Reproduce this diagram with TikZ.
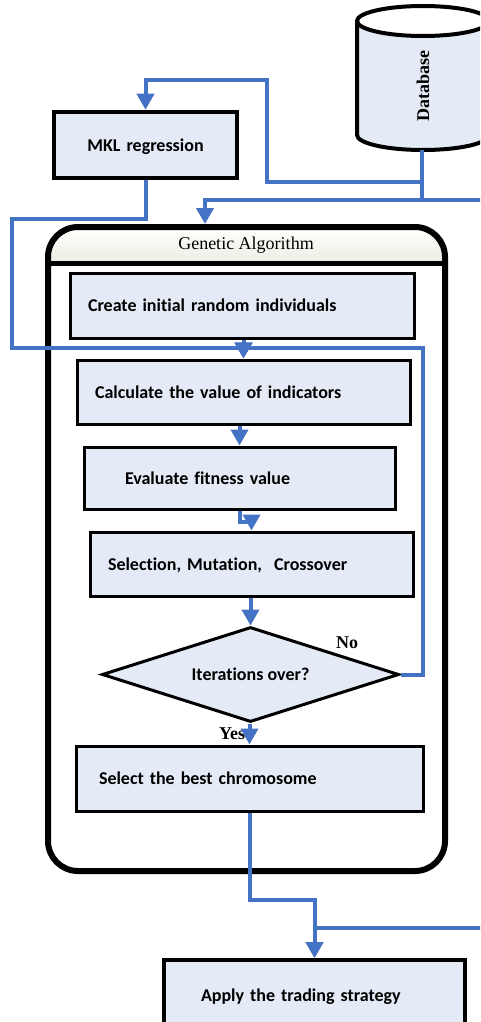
\documentclass[tikz,border=0pt]{standalone}
\usepackage{fontspec}
\setmainfont{Carlito}[Ligatures=NoCommon]
\newfontfamily\timesfam{Liberation Serif}
\usetikzlibrary{shapes.geometric,arrows.meta}
\definecolor{flowblue}{HTML}{4472C4}
\definecolor{boxfill}{HTML}{E5EBF6}
\definecolor{headbot}{HTML}{EDEDE3}
\newcommand\boxfont{\bfseries\fontsize{18}{21}\selectfont}
\newcommand\serifbold{\timesfam\bfseries\fontsize{18}{21}\selectfont}

\begin{document}
\begin{tikzpicture}[x=1pt,y=-1pt,
  procbox/.style={draw=black, fill=boxfill, line width=3pt, font=\boxfont,
    align=left, inner ysep=0pt, minimum height=64pt, text depth=0pt},
  link/.style={draw=flowblue, line width=4pt, line join=miter},
  arr/.style={link, -{Triangle[width=17pt,length=16pt]}},
  tag/.style={font=\serifbold, inner sep=0pt}]
\useasboundingbox (0,0) rectangle (480,1022);
\clip (0,0) rectangle (480,1022);

% Genetic Algorithm container: shaded header, then frame
\fill[top color=white, bottom color=headbot]
  (48,263) [rounded corners=30pt] -- (48,227) -- (445,227) [sharp corners] -- (445,263) -- cycle;
\node[draw=black, line width=6pt, rounded corners=30pt, minimum width=397pt,
  minimum height=644pt, inner sep=0pt] (ga) at (246.5,549) {};
\draw[line width=5pt] (48,263) -- (445,263);
\node[font=\timesfam\fontsize{18}{21}\selectfont, inner sep=0pt] (gatitle) at (246,245) {Genetic Algorithm};

% Process steps
\node[procbox, line width=4.5pt, text width=163pt, inner xsep=10pt, align=center,
  minimum height=66pt] (mkl) at (145.5,145) {MKL regression};
\node[procbox, text width=308pt, inner xsep=18pt, minimum height=65pt] (create) at (242,305.5)
  {Create initial random individuals};
\node[procbox, text width=297pt, inner xsep=18pt] (calc) at (243.5,392)
  {Calculate the value of indicators};
\node[procbox, text width=229pt, inner xsep=41pt, minimum height=62pt] (eval) at (239.5,478)
  {Evaluate fitness value};
\node[procbox, text width=287pt, inner xsep=18pt] (sel) at (251.5,564)
  {Selection, Mutation,\ \ Crossover};
\node[diamond, draw=black, fill=boxfill, line width=3pt, minimum width=297pt,
  minimum height=95pt, shape aspect=3.1, inner sep=0pt, font=\boxfont] (dia) at (250.5,674.5)
  {Iterations over?};
\node[procbox, text width=301pt, inner xsep=23pt, minimum height=65pt] (best) at (249.5,778.5)
  {Select the best chromosome};
\node[procbox, line width=4pt, text width=227pt, inner xsep=37pt, minimum height=70pt] (apply) at (314.5,995)
  {Apply the trading strategy};

% Database cylinder
\fill[boxfill] (357,21) -- (357,135) arc[start angle=180, end angle=0, x radius=66, y radius=15]
  -- (489,21) arc[start angle=0, end angle=180, x radius=66, y radius=15] -- cycle;
\draw[line width=4pt] (357,21) -- (357,135) arc[start angle=180, end angle=0, x radius=66, y radius=15]
  -- (489,21);
\draw[line width=4pt] (423,21) ellipse[x radius=66, y radius=15];
\node[font=\serifbold, rotate=90, inner sep=0pt] (db) at (423,86) {Database};
\coordinate (dbbase) at (422,150);
\coordinate (gax) at (205,200);

% Decision labels
\node[tag] (nolab) at (347,643) {No};
\node[tag] (yeslab) at (232,734) {Yes};

% Connectors
\draw[arr] (dbbase) -- (422,182) -- (267,182) -- (267,80) -- (145.5,80) -- (mkl.north);
\draw[arr] (dbbase) |- (gax) -- (gax |- ga.north);
\draw[arr] (dbbase) |- (490,200) -- (490,928) -| (apply.north);
\draw[arr] (mkl.south) -- (145.5,219) -- (12,219) -- (12,348) -| (calc.north);
\draw[arr] (calc.north |- create.south) -- (calc.north);
\draw[arr] (eval.north |- calc.south) -- (eval.north);
\draw[arr] (eval.south) -- ++(0,11) -| (sel.north);
\draw[arr] (dia.north |- sel.south) -- (dia.north);
\draw[arr] (dia.east) -| (423,348) -| (calc.north);
\draw[arr] (best.north |- dia.south) -- (best.north);
\draw[arr] (best.south) -- (249.5,900) -| (apply.north);
\end{tikzpicture}
\end{document}
